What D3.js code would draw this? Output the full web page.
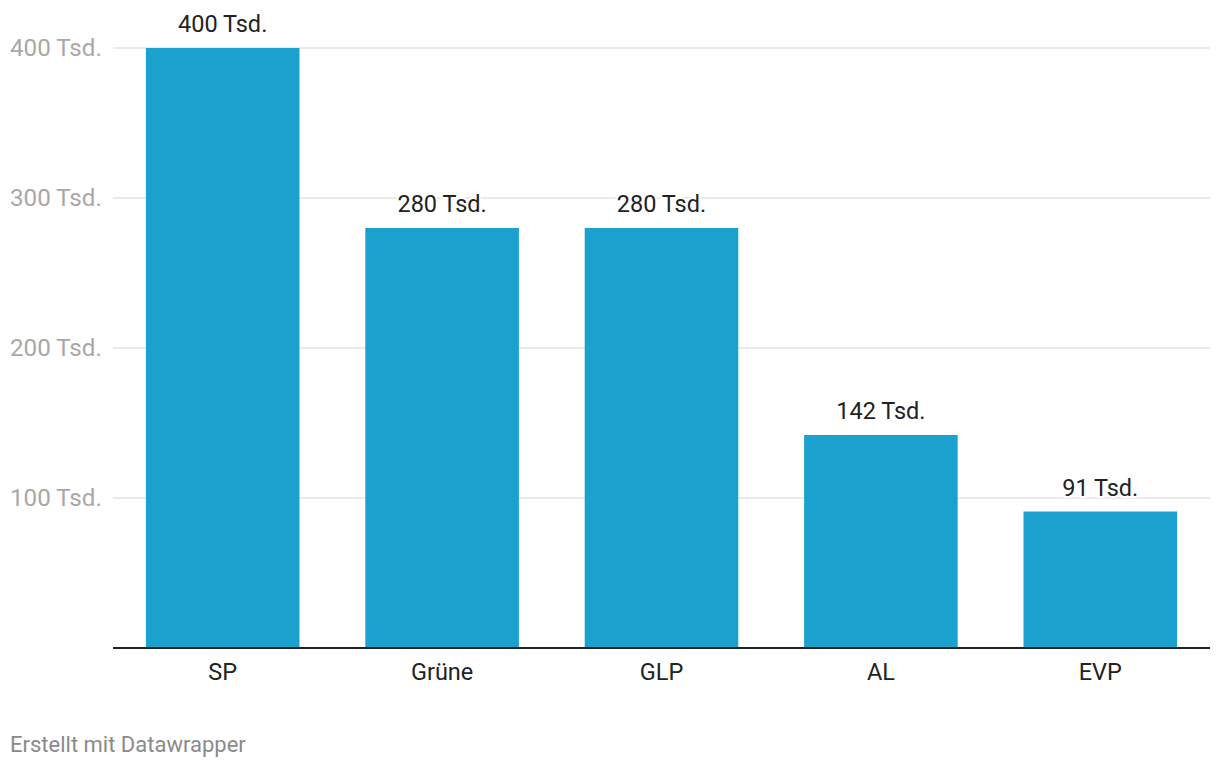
<!DOCTYPE html>
<html><head><meta charset="utf-8">
<script src="https://cdn.jsdelivr.net/npm/d3@7"></script>
<style>
body{margin:0;background:#fff;font-family:Roboto,"Noto Sans",sans-serif;}
</style></head>
<body>
<svg id="chart" width="1220" height="768"></svg>
<script>
const categories = ["SP","Grüne","GLP","AL","EVP"];
const values = [400,280,280,142,91];
const valueLabels = ["400 Tsd.","280 Tsd.","280 Tsd.","142 Tsd.","91 Tsd."];
const yTicks = [100,200,300,400];
const yTickLabels = ["100 Tsd.","200 Tsd.","300 Tsd.","400 Tsd."];

(function(){
const svg = d3.select("#chart");
const mLeft = 113, mRight = 1210, mTop = 48, mBottom = 648;
const x = d3.scaleBand().domain(categories).range([mLeft,mRight]).paddingInner(0.3).paddingOuter(0.15);
const y = d3.scaleLinear().domain([0,400]).range([mBottom,mTop]);

svg.append("g").selectAll("line").data(yTicks).join("line")
  .attr("x1",mLeft).attr("x2",mRight)
  .attr("y1",d=>y(d)).attr("y2",d=>y(d))
  .attr("stroke","#e3e3e3").attr("stroke-width",1.5);

svg.append("g").selectAll("text").data(yTicks).join("text")
  .attr("x",10).attr("y",d=>y(d)).attr("dy","0.35em")
  .attr("font-size",24.2).attr("fill","#a8a8a8")
  .text((d,i)=>yTickLabels[i]);

svg.append("g").selectAll("rect").data(values).join("rect")
  .attr("x",(d,i)=>x(categories[i])).attr("width",x.bandwidth())
  .attr("y",d=>y(d)).attr("height",d=>mBottom-y(d))
  .attr("fill","#1aa1cd");

svg.append("g").selectAll("text").data(values).join("text")
  .attr("x",(d,i)=>x(categories[i])+x.bandwidth()/2).attr("y",d=>y(d)-16)
  .attr("text-anchor","middle").attr("font-size",23.5).attr("fill","#222")
  .attr("stroke","#fff").attr("stroke-width",4).attr("paint-order","stroke")
  .text((d,i)=>valueLabels[i]);

svg.append("line").attr("x1",mLeft).attr("x2",mRight).attr("y1",mBottom).attr("y2",mBottom)
  .attr("stroke","#222").attr("stroke-width",2);

svg.append("g").selectAll("text").data(categories).join("text")
  .attr("x",d=>x(d)+x.bandwidth()/2).attr("y",680)
  .attr("text-anchor","middle").attr("font-size",23.5).attr("fill","#222")
  .text(d=>d);

svg.append("text").attr("x",10).attr("y",752).attr("font-size",22).attr("fill","#8a8a8a")
  .text("Erstellt mit Datawrapper");
})();
</script>
</body></html>
